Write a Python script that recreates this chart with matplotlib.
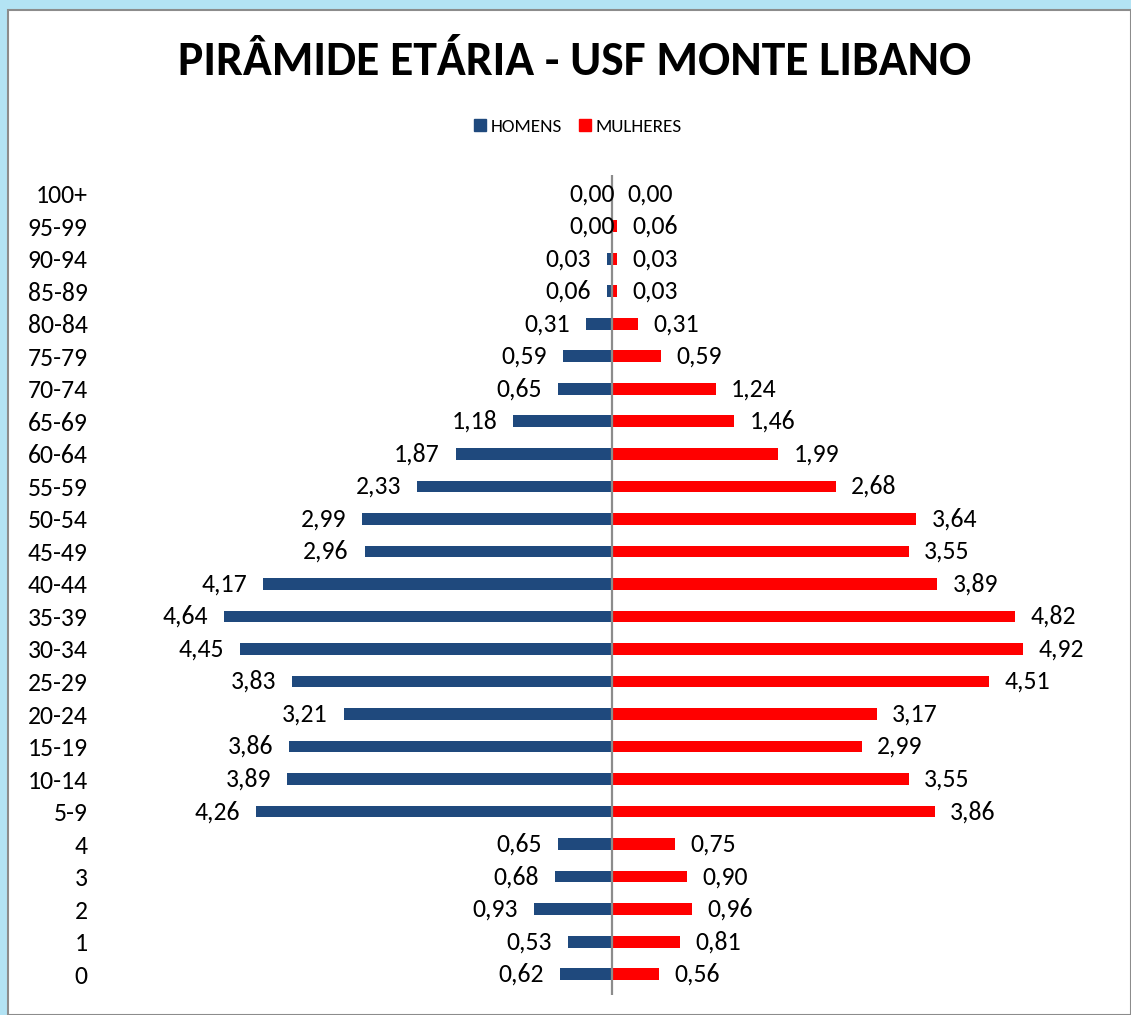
import matplotlib
matplotlib.use('Agg')
import numpy as np
import matplotlib.pyplot as plt
import matplotlib.patches as mpatches

plt.rcParams['font.family'] = ['Carlito', 'DejaVu Sans']

# age groups, top to bottom as shown
AGES = ['100+', '95-99', '90-94', '85-89', '80-84', '75-79', '70-74', '65-69',
        '60-64', '55-59', '50-54', '45-49', '40-44', '35-39', '30-34', '25-29',
        '20-24', '15-19', '10-14', '5-9', '4', '3', '2', '1', '0']
HOMENS = [0.00, 0.00, 0.03, 0.06, 0.31, 0.59, 0.65, 1.18, 1.87, 2.33, 2.99, 2.96,
          4.17, 4.64, 4.45, 3.83, 3.21, 3.86, 3.89, 4.26, 0.65, 0.68, 0.93, 0.53, 0.62]
MULHERES = [0.00, 0.06, 0.03, 0.03, 0.31, 0.59, 1.24, 1.46, 1.99, 2.68, 3.64, 3.55,
            3.89, 4.82, 4.92, 4.51, 3.17, 2.99, 3.55, 3.86, 0.75, 0.90, 0.96, 0.81, 0.56]

BLUE = '#1f497d'
RED = '#ff0000'

W, H = 1131, 1015
fig = plt.figure(figsize=(W / 100, H / 100), dpi=100, facecolor='#b3e3f4')

# white chart area with thin grey frame
fig.patches.append(mpatches.Rectangle((8 / W, 0), 1 - 8 / W, 1 - 10 / H, transform=fig.transFigure,
                                      facecolor='white', edgecolor='#8c8c8c', lw=1.5, zorder=-5))

ax = fig.add_axes([100 / W, 1 - 995 / H, 1010 / W, 820 / H])
ax.set_facecolor('none')

n = len(AGES)
y = np.arange(n)[::-1]
men = np.array(HOMENS)
women = np.array(MULHERES)

# tiny values still get a visible stub, like in the original
men_draw = np.where((men > 0) & (men < 0.06), 0.06, men)
women_draw = np.where((women > 0) & (women < 0.06), 0.06, women)

ax.barh(y, -men_draw, height=0.36, color=BLUE, label='HOMENS')
ax.barh(y, women_draw, height=0.36, color=RED, label='MULHERES')
ax.axvline(0, color='#8c8c8c', lw=1.6, zorder=3)

for yi, m, md, w, wd in zip(y, men, men_draw, women, women_draw):
    # zero-valued male labels sit right on the centre line in the original
    dx = 2 if m == 0 else -11.5
    ax.annotate(f'{m:.2f}'.replace('.', ','), (-md, yi), xytext=(dx, 0),
                textcoords='offset points', ha='right', va='center', fontsize=18.5)
    ax.annotate(f'{w:.2f}'.replace('.', ','), (wd, yi), xytext=(11, 0),
                textcoords='offset points', ha='left', va='center', fontsize=18.5)

ax.set_xlim(-512 / 83.6, 498 / 83.6)
ax.set_ylim(-0.64, n - 1 + 0.575)
ax.set_yticks(y)
ax.set_yticklabels(AGES, fontsize=18.5)
ax.tick_params(axis='y', length=0, pad=9)
ax.set_xticks([])
for sp in ax.spines.values():
    sp.set_visible(False)

fig.text(575 / W, 1 - 62 / H, 'PIRÂMIDE ETÁRIA - USF MONTE LIBANO', ha='center', va='center',
         fontsize=34.3, fontweight='bold')

handles = [mpatches.Patch(color=BLUE, label='HOMENS'), mpatches.Patch(color=RED, label='MULHERES')]
fig.legend(handles=handles, loc='center', bbox_to_anchor=(578 / W, 1 - 127 / H), ncol=2,
           frameon=False, fontsize=13.8, handlelength=0.6, handleheight=0.6, handletextpad=0.25,
           columnspacing=0.9)

fig.savefig('out.png', dpi=100, facecolor=fig.get_facecolor())
